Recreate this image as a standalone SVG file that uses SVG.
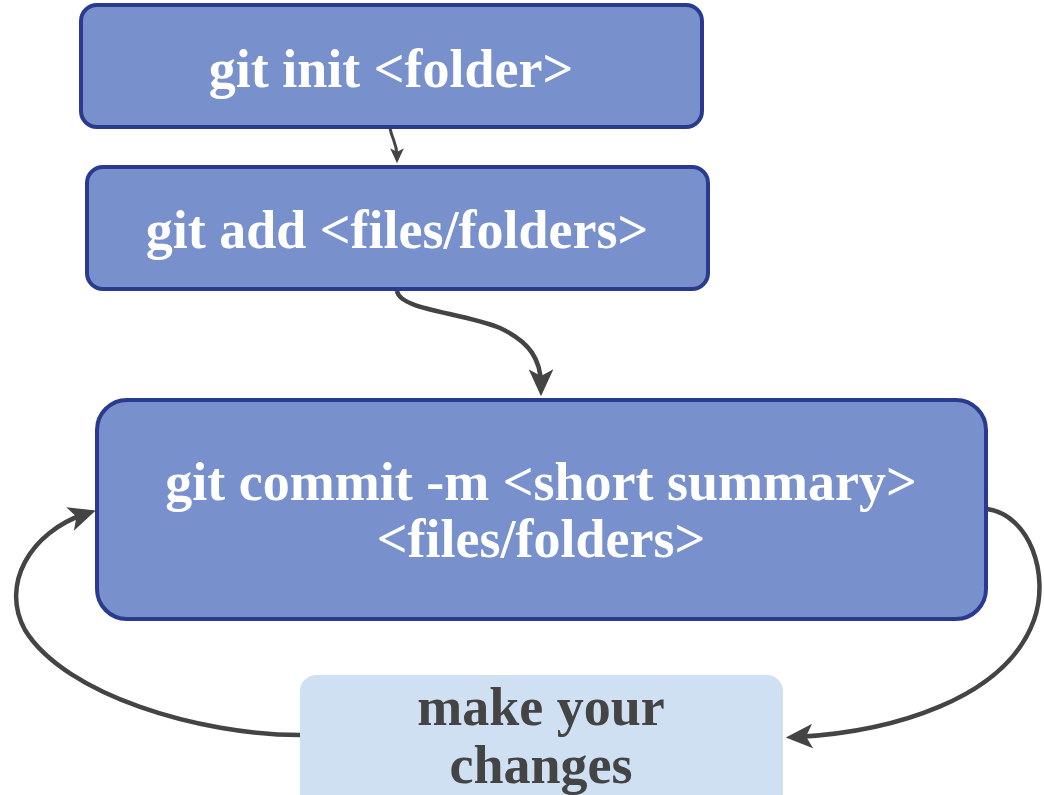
<svg xmlns="http://www.w3.org/2000/svg" width="1044" height="795" viewBox="0 0 1044 795">
<style>
.box{fill:#7890cc;stroke:#2a3a8f;stroke-width:4}
.light{fill:#cfe0f2}
.t{font-family:"Liberation Serif","DejaVu Serif",serif;font-weight:bold;font-size:54px;text-anchor:middle;fill:#ffffff}
.d{fill:#444444}
.c{fill:none;stroke:#444444;stroke-width:4.5}
.cs{fill:none;stroke:#444444;stroke-width:3}
</style>
<defs>
<marker id="big" viewBox="0 0 24 22" markerUnits="userSpaceOnUse" markerWidth="27" markerHeight="25" refX="14" refY="11" orient="auto">
<path d="M0,0 L24,11 L0,22 L6,11 z" fill="#444444"/>
</marker>
<marker id="small" viewBox="0 0 24 22" markerUnits="userSpaceOnUse" markerWidth="15" markerHeight="14" refX="14" refY="11" orient="auto">
<path d="M0,0 L24,11 L0,22 L6,11 z" fill="#444444"/>
</marker>
</defs>
<g id="connectors">
<path class="cs" d="M390 128 C392 140,397 142,397 157" marker-end="url(#small)"/>
<path class="c" d="M397 291 C400 310,460 312,500 328 C530 342,541 360,541 385" marker-end="url(#big)"/>
<path class="c" d="M987 509 C1030 515,1050 575,1034 620 C1005 700,890 732,797 737" marker-end="url(#big)"/>
<path class="c" d="M300 735 C200 735,65 695,25 630 C0 585,30 532,85 514" marker-end="url(#big)"/>
</g>
<g id="node-init">
<rect class="box" x="81" y="5" width="621" height="122" rx="16"/>
<text class="t" x="391" y="87">git init &lt;folder&gt;</text>
</g>
<g id="node-add">
<rect class="box" x="87" y="167" width="621" height="122" rx="16"/>
<text class="t" x="397" y="248">git add &lt;files/folders&gt;</text>
</g>
<g id="node-commit">
<rect class="box" x="97" y="400" width="889" height="219" rx="30"/>
<text class="t" x="541" y="500">git commit -m &lt;short summary&gt;</text>
<text class="t" x="541" y="557">&lt;files/folders&gt;</text>
</g>
<g id="node-changes">
<rect class="light" x="300" y="675" width="483" height="140" rx="16"/>
<text class="t d" x="541" y="725">make your</text>
<text class="t d" x="541" y="783">changes</text>
</g>
</svg>
